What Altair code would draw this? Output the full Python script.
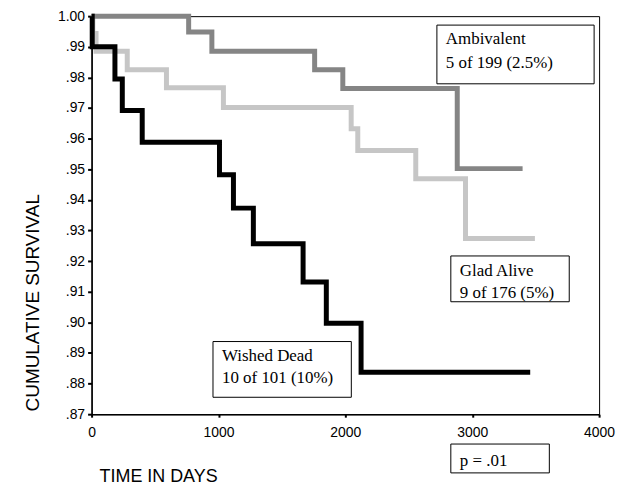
import altair as alt
import pandas as pd

# Kaplan-Meier step curves (time in days, cumulative survival)
amb_t = [0, 765, 948, 1758, 1980, 2882, 3397]
amb_s = [1.0, 0.9948, 0.9885, 0.9825, 0.9764, 0.9502, 0.9502]

glad_t = [0, 10, 35, 281, 590, 1039, 2046, 2098, 2555, 2947, 3494]
glad_s = [1.0, 0.9943, 0.9885, 0.9825, 0.9766, 0.9702, 0.9632, 0.9561, 0.9469, 0.9274, 0.9274]

dead_t = [0, 5, 184, 242, 399, 1008, 1118, 1275, 1667, 1850, 2124, 3457]
dead_s = [1.0, 0.990, 0.9795, 0.9692, 0.9588, 0.9482, 0.9373, 0.9257, 0.9132, 0.8997, 0.8837, 0.8837]

series_names = ["Glad Alive", "Ambivalent", "Wished Dead"]
series_colors = ["#c6c6c6", "#858585", "#000000"]

x_ticks = [0, 1000, 2000, 3000, 4000]
y_ticks = [0.87, 0.88, 0.89, 0.90, 0.91, 0.92, 0.93, 0.94, 0.95, 0.96, 0.97, 0.98, 0.99, 1.00]

rows = []
for name, ts, ss in [("Glad Alive", glad_t, glad_s), ("Ambivalent", amb_t, amb_s), ("Wished Dead", dead_t, dead_s)]:
    for i, (t, s) in enumerate(zip(ts, ss)):
        rows.append({"series": name, "t": t, "s": s, "order": i})
df = pd.DataFrame(rows)

lines = alt.Chart(df).mark_line(interpolate="step-after", strokeWidth=5).encode(
    x=alt.X("t:Q", scale=alt.Scale(domain=[0, 4000], nice=False, zero=False),
            axis=alt.Axis(values=x_ticks, format="d", title=None, grid=False, labelFont="Liberation Sans",
                          labelFontSize=14, labelColor="black", domainColor="black", domainWidth=1.5,
                          tickColor="black", tickSize=3, tickWidth=2, labelPadding=8, labelFlush=False)),
    y=alt.Y("s:Q", scale=alt.Scale(domain=[0.87, 1.0], nice=False, zero=False),
            axis=alt.Axis(values=y_ticks, title=None, grid=False, labelFont="Liberation Sans",
                          labelFontSize=14, labelColor="black", domainColor="black", domainWidth=1.5,
                          tickColor="black", tickSize=4, tickWidth=2, labelPadding=3, labelFlush=False,
                          labelExpr="datum.value >= 1 ? '1.00' : replace(format(datum.value, '.2f'), '0.', '.')")),
    color=alt.Color("series:N", scale=alt.Scale(domain=series_names, range=series_colors), legend=None),
    detail="series:N",
    order="order:Q",
)

one = pd.DataFrame({"k": [0]})

def box(x1, x2, y1, y2):
    return alt.Chart(one).mark_rect(fill="white", stroke="black", strokeWidth=1).encode(
        x=alt.value(x1), x2=alt.value(x2), y=alt.value(y1), y2=alt.value(y2))

def label(txt, x, y, size=17, font="Liberation Serif", angle=0, align="left", baseline="alphabetic"):
    return alt.Chart(one).mark_text(text=txt, font=font, fontSize=size, color="black",
                                    align=align, baseline=baseline, angle=angle).encode(
        x=alt.value(x), y=alt.value(y))

layers = [
    lines,
    box(347, 505, 9, 68),
    label("Ambivalent", 356, 28),
    label("5 of 199 (2.5%)", 356, 52),
    box(361, 480, 241, 287),
    label("Glad Alive", 370, 261),
    label("9 of 176 (5%)", 370, 283),
    box(122, 261, 327, 383),
    label("Wished Dead", 131, 347),
    label("10 of 101 (10%)", 131, 369),
    box(361, 460, 430, 459),
    label("p = .01", 370, 452),
    label("CUMULATIVE SURVIVAL", -59, 288, size=19, font="Liberation Sans", angle=270,
          align="center", baseline="middle"),
    label("TIME IN DAYS", 8, 468, size=18, font="Liberation Sans"),
]

chart = alt.layer(*layers).properties(
    width=510, height=400,
    autosize=alt.AutoSizeParams(type="none"),
    padding={"left": 84, "top": 7, "right": 20, "bottom": 75},
).configure_view(stroke="black", strokeWidth=1)

chart.save("out.html", embed_options={"renderer": "svg", "actions": False})
